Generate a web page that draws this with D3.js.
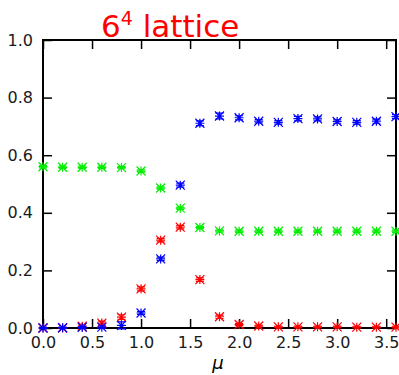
<!DOCTYPE html>
<html lang="en">
  <head>
    <meta charset="utf-8">
    <title>6^4 lattice</title>
    <script type="text/javascript" src="https://cdn.jsdelivr.net/npm/d3@7"></script>
<style>
body { margin: 0; background: #fff; }
svg text { font-family: "DejaVu Sans", sans-serif; }
</style>
  </head>
  <body>
    <script type="text/javascript">
      // data
      var mu = [0.0, 0.2, 0.4, 0.6, 0.8, 1.0, 1.2, 1.4, 1.6, 1.8, 2.0, 2.2, 2.4, 2.6, 2.8, 3.0, 3.2, 3.4, 3.6];
      var redVals = [0.0, 0.0, 0.006, 0.017, 0.038, 0.136, 0.305, 0.350, 0.168, 0.039, 0.012, 0.007, 0.004, 0.004, 0.004, 0.004, 0.003, 0.003, 0.003];
      var redErr = [0.002, 0.002, 0.004, 0.007, 0.008, 0.007, 0.006, 0.006, 0.006, 0.006, 0.004, 0.003, 0.003, 0.003, 0.003, 0.003, 0.003, 0.003, 0.003];
      var greenVals = [0.560, 0.558, 0.558, 0.558, 0.557, 0.545, 0.486, 0.416, 0.349, 0.337, 0.336, 0.336, 0.336, 0.336, 0.336, 0.336, 0.336, 0.336, 0.336];
      var greenErr = [0.004, 0.004, 0.004, 0.004, 0.004, 0.004, 0.004, 0.004, 0.004, 0.004, 0.004, 0.004, 0.004, 0.004, 0.004, 0.004, 0.004, 0.004, 0.004];
      var blueVals = [0.0, 0.001, 0.002, 0.003, 0.009, 0.052, 0.240, 0.496, 0.711, 0.736, 0.730, 0.718, 0.714, 0.727, 0.726, 0.717, 0.714, 0.718, 0.734];
      var blueErr = [0.002, 0.002, 0.003, 0.004, 0.012, 0.005, 0.006, 0.007, 0.008, 0.010, 0.007, 0.006, 0.006, 0.008, 0.007, 0.006, 0.006, 0.007, 0.007];
      var yTicks = [0.0, 0.2, 0.4, 0.6, 0.8, 1.0];
      var xTicks = [0.0, 0.5, 1.0, 1.5, 2.0, 2.5, 3.0, 3.5];

      var width = 399, height = 375;
      var padL = 43, padR = 396, padT = 40, padB = 328;

      var svg = d3.select("body").append("svg")
        .attr("width", width)
        .attr("height", height);

      var x = d3.scaleLinear().domain([0, 3.6]).range([padL, padR]);
      var y = d3.scaleLinear().domain([0, 1]).range([padB, padT]);

      // title
      var title = svg.append("text")
        .attr("x", 101)
        .attr("y", 37)
        .attr("fill", "#ff0000")
        .attr("font-size", "31px");
      title.append("tspan").text("6");
      title.append("tspan").text("4").attr("font-size", "19px").attr("dy", "-12");
      title.append("tspan").text(" lattice").attr("dy", "12");

      // axes, ticks pointing inward
      var fmt = d3.format(".1f");
      var gl = svg.append("g").attr("transform", "translate(" + padL + ",0)")
        .call(d3.axisLeft(y).tickValues(yTicks).tickFormat(fmt).tickSize(-9).tickPadding(10));
      var gr = svg.append("g").attr("transform", "translate(" + padR + ",0)")
        .call(d3.axisRight(y).tickValues(yTicks).tickFormat("").tickSize(-9));
      var gb = svg.append("g").attr("transform", "translate(0," + padB + ")")
        .call(d3.axisBottom(x).tickValues(xTicks).tickFormat(fmt).tickSize(-9).tickPadding(9));
      var gt = svg.append("g").attr("transform", "translate(0," + padT + ")")
        .call(d3.axisTop(x).tickValues(xTicks).tickFormat("").tickSize(-9));
      [gl, gr, gb, gt].forEach(function(g) {
        g.select(".domain").remove();
        g.selectAll("line").attr("stroke", "#000").attr("stroke-width", 1.5);
        g.selectAll("text").attr("font-size", "16px").attr("fill", "#1a1a1a")
          .attr("font-family", "DejaVu Sans, sans-serif");
      });

      svg.append("rect")
        .attr("x", padL).attr("y", padT)
        .attr("width", padR - padL).attr("height", padB - padT)
        .attr("fill", "none").attr("stroke", "#000").attr("stroke-width", 2);

      // x label
      svg.append("text")
        .attr("x", 218).attr("y", 369)
        .attr("text-anchor", "middle")
        .attr("font-size", "18px")
        .attr("font-style", "italic")
        .text("\u03bc");

      var series = [
        { vals: redVals, err: redErr, color: "#ff0000" },
        { vals: greenVals, err: greenErr, color: "#00ee00" },
        { vals: blueVals, err: blueErr, color: "#0000ff" }
      ];

      var s = 4.5, cap = 4;
      series.forEach(function(ser) {
        var g = svg.append("g")
          .attr("stroke", ser.color)
          .attr("stroke-width", 1.2)
          .attr("fill", "none");
        var pts = g.selectAll("g.pt")
          .data(mu.map(function(m, i) { return { m: m, v: ser.vals[i], e: ser.err[i] }; }))
          .enter()
          .append("g")
          .attr("class", "pt");
        // error bars
        pts.append("path").attr("d", function(d) {
          var cx = x(d.m), y1 = y(d.v + d.e), y0 = y(d.v - d.e);
          return "M" + cx + "," + y1 + "V" + y0 +
            "M" + (cx - cap) + "," + y1 + "H" + (cx + cap) +
            "M" + (cx - cap) + "," + y0 + "H" + (cx + cap);
        });
        // asterisk marker
        pts.append("path").attr("d", function(d) {
          var cx = x(d.m), cy = y(d.v);
          return "M" + (cx - s) + "," + cy + "H" + (cx + s) +
            "M" + cx + "," + (cy - s) + "V" + (cy + s) +
            "M" + (cx - s) + "," + (cy - s) + "L" + (cx + s) + "," + (cy + s) +
            "M" + (cx - s) + "," + (cy + s) + "L" + (cx + s) + "," + (cy - s);
        });
      });
    </script>
  </body>
</html>
